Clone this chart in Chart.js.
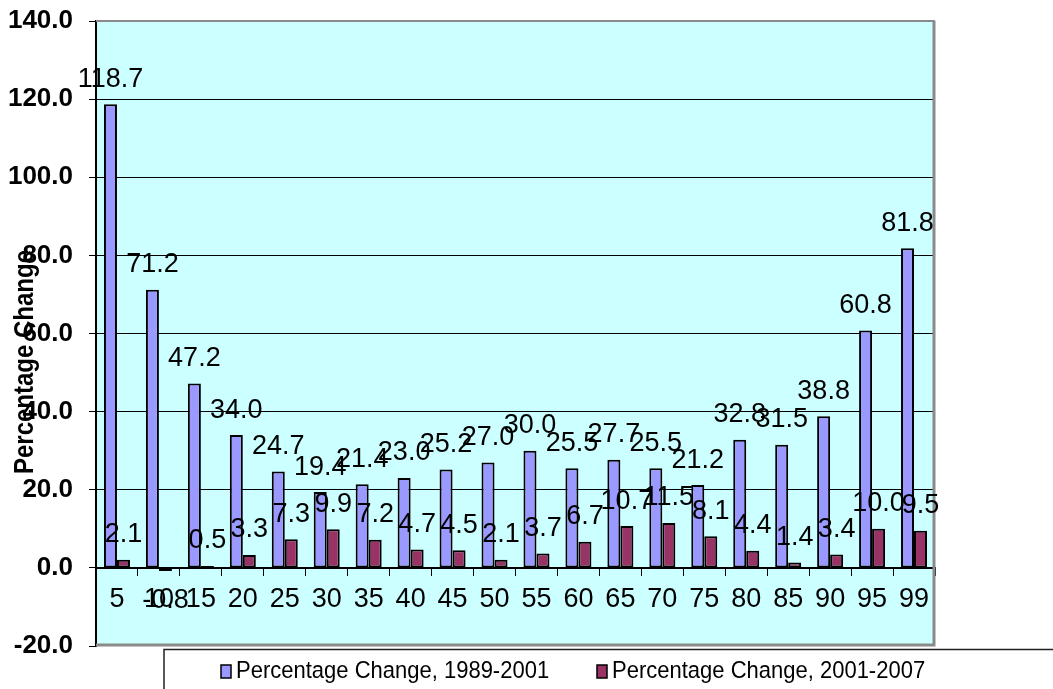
<!DOCTYPE html>
<html>
<head>
<meta charset="utf-8">
<script src="https://cdn.jsdelivr.net/npm/chart.js@4/dist/chart.umd.min.js"></script>
<style>
  html, body { margin: 0; padding: 0; background: #ffffff; }
  #wrap { width: 1053px; height: 689px; position: relative; }
</style>
</head>
<body>
<div id="wrap"><canvas id="chart" width="1053" height="689"></canvas></div>
<script>
// Percentile categories along the x axis
const categories = ['5', '10', '15', '20', '25', '30', '35', '40', '45', '50',
                    '55', '60', '65', '70', '75', '80', '85', '90', '95', '99'];

// Percentage change by percentile, two periods
const change1989to2001 = [118.7, 71.2, 47.2, 34.0, 24.7, 19.4, 21.4, 23.0, 25.2, 27.0,
                          30.0, 25.5, 27.7, 25.5, 21.2, 32.8, 31.5, 38.8, 60.8, 81.8];
const change2001to2007 = [2.1, -0.8, 0.5, 3.3, 7.3, 9.9, 7.2, 4.7, 4.5, 2.1,
                          3.7, 6.7, 10.7, 11.5, 8.1, 4.4, 1.4, 3.4, 10.0, 9.5];

const seriesLabels = ['Percentage Change, 1989-2001', 'Percentage Change, 2001-2007'];
const yMin = -20, yMax = 140, yStep = 20;
const yTitle = 'Percentage Change';

const FONT = '"Liberation Sans", Arial, sans-serif';

// Cyan plot background plus the grey frame on top, right and bottom
const plotFrame = {
  id: 'plotFrame',
  beforeDraw(chart) {
    const { ctx, chartArea: a } = chart;
    ctx.save();
    ctx.fillStyle = '#CCFFFF';
    ctx.fillRect(a.left, a.top, a.right - a.left, a.bottom - a.top);
    ctx.restore();
  },
  afterDatasetsDraw(chart) {
    const { ctx, chartArea: a } = chart;
    ctx.save();
    ctx.strokeStyle = '#8a8a8a';
    ctx.lineWidth = 2;
    ctx.beginPath();
    ctx.moveTo(a.left, a.top);
    ctx.lineTo(a.right, a.top);
    ctx.stroke();
    ctx.lineWidth = 3;
    ctx.beginPath();
    ctx.moveTo(a.right - 1, a.top);
    ctx.lineTo(a.right - 1, a.bottom - 1);
    ctx.lineTo(a.left, a.bottom - 1);
    ctx.stroke();
    ctx.restore();
  }
};

// Value labels over each bar (under it for negative values)
const valueLabels = {
  id: 'valueLabels',
  afterDatasetsDraw(chart) {
    const { ctx } = chart;
    ctx.save();
    ctx.font = '27px ' + FONT;
    ctx.fillStyle = '#000000';
    ctx.textAlign = 'center';
    ctx.textBaseline = 'middle';
    chart.data.datasets.forEach((ds, di) => {
      const meta = chart.getDatasetMeta(di);
      meta.data.forEach((bar, i) => {
        const v = ds.data[i];
        const y = v >= 0 ? bar.y - 25 : bar.y + 30;
        ctx.fillText(v.toFixed(1), bar.x, y);
      });
    });
    ctx.restore();
  }
};

// Rotated y axis title and the boxed legend underneath the plot
const extras = {
  id: 'extras',
  afterDraw(chart) {
    const { ctx } = chart;
    ctx.save();
    ctx.font = 'bold 24px ' + FONT;
    ctx.fillStyle = '#000000';
    ctx.textAlign = 'center';
    ctx.textBaseline = 'middle';
    ctx.translate(25, 362);
    ctx.rotate(-Math.PI / 2);
    ctx.scale(1, 1.15);
    ctx.fillText(yTitle, 0, 0);
    ctx.restore();

    ctx.save();
    ctx.strokeStyle = '#222222';
    ctx.lineWidth = 1.5;
    ctx.beginPath();
    ctx.moveTo(164, 689);
    ctx.lineTo(164, 649.5);
    ctx.lineTo(1053, 649.5);
    ctx.stroke();

    const items = [{ x: 221 }, { x: 597 }];
    ctx.font = '22px ' + FONT;
    ctx.textAlign = 'left';
    ctx.textBaseline = 'alphabetic';
    chart.data.datasets.forEach((ds, i) => {
      const x = items[i].x;
      ctx.fillStyle = ds.backgroundColor;
      ctx.fillRect(x, 665, 10, 13);
      ctx.lineWidth = 1.5;
      ctx.strokeStyle = '#000000';
      ctx.strokeRect(x, 665, 10, 13);
      ctx.fillStyle = '#000000';
      ctx.save();
      ctx.translate(x + 15, 678);
      ctx.scale(1, 1.12);
      ctx.fillText(ds.label, 0, 0);
      ctx.restore();
    });
    ctx.restore();
  }
};

new Chart(document.getElementById('chart'), {
  type: 'bar',
  data: {
    labels: categories,
    datasets: [
      {
        label: seriesLabels[0],
        data: change1989to2001,
        backgroundColor: '#9999FF',
        borderColor: '#000000',
        borderWidth: 2,
        borderSkipped: false,
        categoryPercentage: 0.62,
        barPercentage: 1.0
      },
      {
        label: seriesLabels[1],
        data: change2001to2007,
        backgroundColor: '#993366',
        borderColor: '#000000',
        borderWidth: 2,
        borderSkipped: false,
        categoryPercentage: 0.62,
        barPercentage: 1.0
      }
    ]
  },
  options: {
    responsive: false,
    animation: false,
    devicePixelRatio: 1,
    layout: { padding: { top: 21, left: 0, right: 118, bottom: 43 } },
    plugins: {
      legend: { display: false },
      tooltip: { enabled: false }
    },
    scales: {
      x: {
        position: { y: 0 },
        offset: true,
        grid: {
          offset: true,
          drawOnChartArea: false,
          drawTicks: true,
          tickLength: 7,
          color: '#000000',
          lineWidth: 1
        },
        border: { display: true, color: '#000000', width: 2 },
        ticks: {
          color: '#000000',
          padding: 8,
          maxRotation: 0,
          autoSkip: false,
          font: { family: FONT, size: 27 }
        }
      },
      y: {
        min: yMin,
        max: yMax,
        afterFit(scale) {
          scale.width = 96;
          scale.paddingTop = 0;
          scale.paddingBottom = 0;
        },
        grid: {
          color: (c) => (c.tick && (c.tick.value === yMin || c.tick.value === yMax)) ? 'rgba(0,0,0,0)' : '#000000',
          tickColor: '#000000',
          tickLength: 7,
          lineWidth: 1
        },
        border: { display: true, color: '#000000', width: 2 },
        ticks: {
          stepSize: yStep,
          padding: 16,
          color: '#000000',
          font: { family: FONT, size: 26, weight: 'bold' },
          callback: (v) => Number(v).toFixed(1)
        }
      }
    }
  },
  plugins: [plotFrame, valueLabels, extras]
});
</script>
</body>
</html>
